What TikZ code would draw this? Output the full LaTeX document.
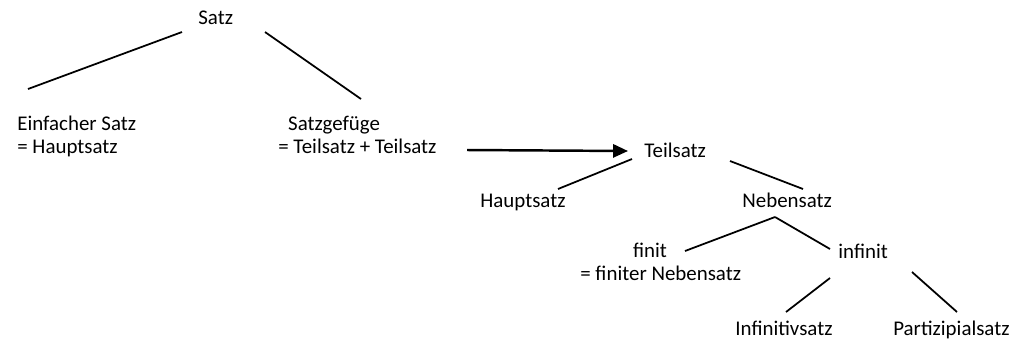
\documentclass[tikz,border=0pt]{standalone}
\usepackage{fontspec}
\setmainfont{Carlito}
\usepackage{tikz}
\usetikzlibrary{arrows.meta}

\begin{document}
\begin{tikzpicture}[
  x=0.02cm, y=-0.02cm,
  word/.style={anchor=base west, inner sep=0pt, align=left, font=\fontsize{11.9}{12.75}\selectfont},
  branch/.style={line width=1pt},
  pfeil/.style={-{Triangle[length=8.5pt, width=7.5pt]}, line width=1.4pt}
]
\useasboundingbox (0,0) rectangle (1014,343);

% Knoten (bei zwei Zeilen: Grundlinie der zweiten Zeile)
\node[word] (satz) at (198,24) {Satz};
\node[word] (einfach) at (17,153) {Einfacher Satz\\= Hauptsatz};
\node[word] (gefuege) at (278,153) {\hspace*{5.6pt}Satzgefüge\\= Teilsatz + Teilsatz};
\node[word] (teilsatz) at (644,157) {Teilsatz};
\node[word] (haupt) at (480,207) {Hauptsatz};
\node[word] (neben) at (742,207) {Nebensatz};
\node[word] (finit) at (580,280) {\hspace*{30pt}finit\\= finiter Nebensatz};
\node[word] (infinit) at (838,258) {infinit};
\node[word] (infsatz) at (735,335) {Infinitivsatz};
\node[word] (partsatz) at (893,335) {Partizipialsatz};

% Enden der Aeste
\coordinate (satz-l) at (182,32);
\coordinate (satz-r) at (265,32);
\coordinate (einfach-o) at (28,89);
\coordinate (gefuege-o) at (361,99);
\coordinate (gefuege-r) at (467,150);
\coordinate (teil-w) at (628,151);
\coordinate (teil-l) at (632,159);
\coordinate (teil-r) at (730,161);
\coordinate (haupt-o) at (558,189);
\coordinate (neben-o) at (803,189);
\coordinate (neben-u) at (775,217);
\coordinate (finit-o) at (685,251);
\coordinate (infinit-o) at (830,249);
\coordinate (infinit-l) at (830,278);
\coordinate (infinit-r) at (912,272);
\coordinate (infsatz-o) at (786,312);
\coordinate (partsatz-o) at (957,312);

% Aeste
\draw[branch] (satz-l) -- (einfach-o);
\draw[branch] (satz-r) -- (gefuege-o);
\draw[pfeil] (gefuege-r) -- (teil-w);
\draw[branch] (teil-l) -- (haupt-o);
\draw[branch] (teil-r) -- (neben-o);
\draw[branch] (neben-u) -- (finit-o);
\draw[branch] (neben-u) -- (infinit-o);
\draw[branch] (infinit-l) -- (infsatz-o);
\draw[branch] (infinit-r) -- (partsatz-o);

\end{tikzpicture}
\end{document}
